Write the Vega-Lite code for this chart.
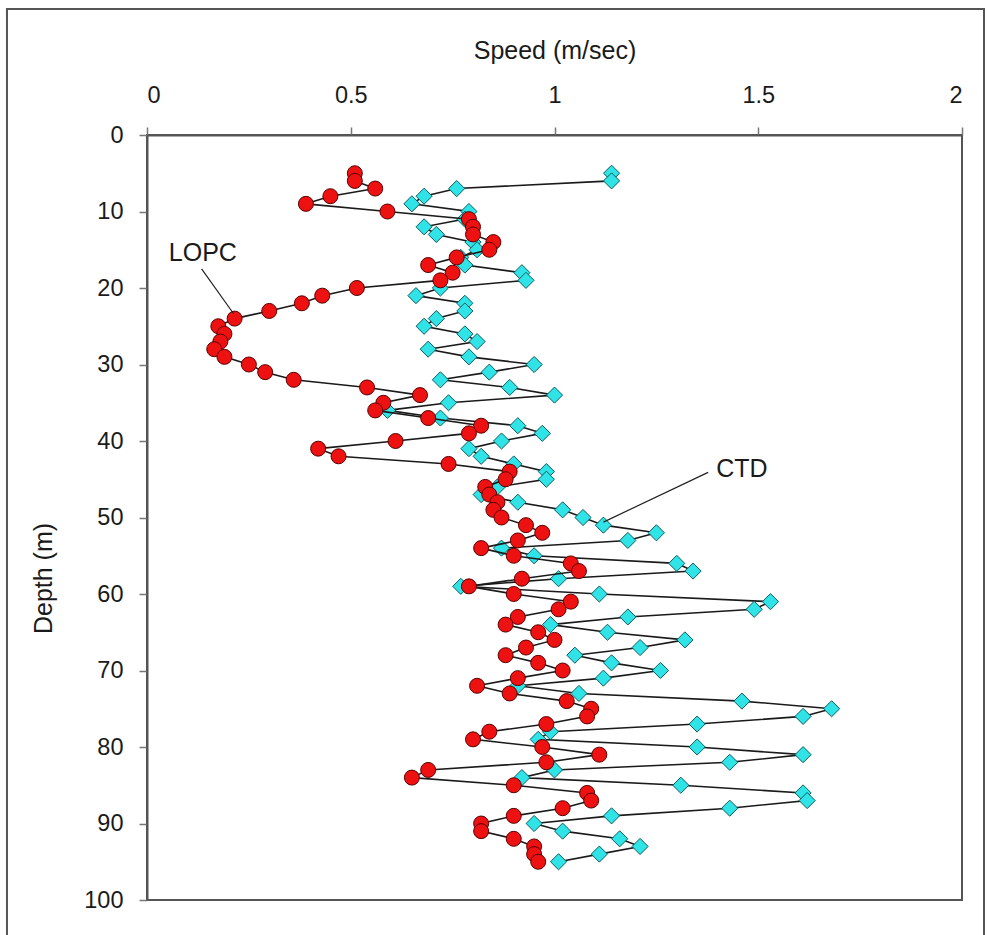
{
  "$schema": "https://vega.github.io/schema/vega-lite/v6.json",
  "width": 815,
  "height": 765,
  "autosize": {"type": "none"},
  "padding": {"left": 147, "top": 135, "right": 25, "bottom": 35},
  "background": "white",
  "config": {
    "view": {"stroke": "#555", "strokeWidth": 2},
    "font": "Liberation Sans",
    "axis": {"grid": false, "domainColor": "#555", "domainWidth": 2, "tickColor": "#777", "tickWidth": 1.5, "tickSize": 8, "labelFont": "Liberation Sans", "labelFontSize": 23.5, "labelColor": "#1a1a1a", "titleFont": "Liberation Sans", "titleFontSize": 25, "titleFontWeight": "normal", "titleColor": "#1a1a1a"}
  },
  "datasets": {
    "speeds": [
      {"series": "LOPC", "depth": 5, "speed": 0.51}, {"series": "LOPC", "depth": 6, "speed": 0.51}, {"series": "LOPC", "depth": 7, "speed": 0.56}, {"series": "LOPC", "depth": 8, "speed": 0.45}, {"series": "LOPC", "depth": 9, "speed": 0.39}, {"series": "LOPC", "depth": 10, "speed": 0.59}, {"series": "LOPC", "depth": 11, "speed": 0.79}, {"series": "LOPC", "depth": 12, "speed": 0.8}, {"series": "LOPC", "depth": 13, "speed": 0.8}, {"series": "LOPC", "depth": 14, "speed": 0.85}, {"series": "LOPC", "depth": 15, "speed": 0.84}, {"series": "LOPC", "depth": 16, "speed": 0.76}, {"series": "LOPC", "depth": 17, "speed": 0.69}, {"series": "LOPC", "depth": 18, "speed": 0.75}, {"series": "LOPC", "depth": 19, "speed": 0.72}, {"series": "LOPC", "depth": 20, "speed": 0.515}, {"series": "LOPC", "depth": 21, "speed": 0.43}, {"series": "LOPC", "depth": 22, "speed": 0.38}, {"series": "LOPC", "depth": 23, "speed": 0.3}, {"series": "LOPC", "depth": 24, "speed": 0.215}, {"series": "LOPC", "depth": 25, "speed": 0.175}, {"series": "LOPC", "depth": 26, "speed": 0.19}, {"series": "LOPC", "depth": 27, "speed": 0.18}, {"series": "LOPC", "depth": 28, "speed": 0.165}, {"series": "LOPC", "depth": 29, "speed": 0.19}, {"series": "LOPC", "depth": 30, "speed": 0.25}, {"series": "LOPC", "depth": 31, "speed": 0.29}, {"series": "LOPC", "depth": 32, "speed": 0.36}, {"series": "LOPC", "depth": 33, "speed": 0.54}, {"series": "LOPC", "depth": 34, "speed": 0.67}, {"series": "LOPC", "depth": 35, "speed": 0.58}, {"series": "LOPC", "depth": 36, "speed": 0.56}, {"series": "LOPC", "depth": 37, "speed": 0.69}, {"series": "LOPC", "depth": 38, "speed": 0.82}, {"series": "LOPC", "depth": 39, "speed": 0.79}, {"series": "LOPC", "depth": 40, "speed": 0.61}, {"series": "LOPC", "depth": 41, "speed": 0.42}, {"series": "LOPC", "depth": 42, "speed": 0.47}, {"series": "LOPC", "depth": 43, "speed": 0.74}, {"series": "LOPC", "depth": 44, "speed": 0.89}, {"series": "LOPC", "depth": 45, "speed": 0.88}, {"series": "LOPC", "depth": 46, "speed": 0.83}, {"series": "LOPC", "depth": 47, "speed": 0.84}, {"series": "LOPC", "depth": 48, "speed": 0.86}, {"series": "LOPC", "depth": 49, "speed": 0.85}, {"series": "LOPC", "depth": 50, "speed": 0.87}, {"series": "LOPC", "depth": 51, "speed": 0.93}, {"series": "LOPC", "depth": 52, "speed": 0.97}, {"series": "LOPC", "depth": 53, "speed": 0.91}, {"series": "LOPC", "depth": 54, "speed": 0.82}, {"series": "LOPC", "depth": 55, "speed": 0.9}, {"series": "LOPC", "depth": 56, "speed": 1.04}, {"series": "LOPC", "depth": 57, "speed": 1.06}, {"series": "LOPC", "depth": 58, "speed": 0.92}, {"series": "LOPC", "depth": 59, "speed": 0.79}, {"series": "LOPC", "depth": 60, "speed": 0.9}, {"series": "LOPC", "depth": 61, "speed": 1.04}, {"series": "LOPC", "depth": 62, "speed": 1.01}, {"series": "LOPC", "depth": 63, "speed": 0.91}, {"series": "LOPC", "depth": 64, "speed": 0.88}, {"series": "LOPC", "depth": 65, "speed": 0.96}, {"series": "LOPC", "depth": 66, "speed": 1.0}, {"series": "LOPC", "depth": 67, "speed": 0.93}, {"series": "LOPC", "depth": 68, "speed": 0.88}, {"series": "LOPC", "depth": 69, "speed": 0.96}, {"series": "LOPC", "depth": 70, "speed": 1.02}, {"series": "LOPC", "depth": 71, "speed": 0.91}, {"series": "LOPC", "depth": 72, "speed": 0.81}, {"series": "LOPC", "depth": 73, "speed": 0.89}, {"series": "LOPC", "depth": 74, "speed": 1.03}, {"series": "LOPC", "depth": 75, "speed": 1.09}, {"series": "LOPC", "depth": 76, "speed": 1.08}, {"series": "LOPC", "depth": 77, "speed": 0.98}, {"series": "LOPC", "depth": 78, "speed": 0.84}, {"series": "LOPC", "depth": 79, "speed": 0.8}, {"series": "LOPC", "depth": 80, "speed": 0.97}, {"series": "LOPC", "depth": 81, "speed": 1.11}, {"series": "LOPC", "depth": 82, "speed": 0.98}, {"series": "LOPC", "depth": 83, "speed": 0.69}, {"series": "LOPC", "depth": 84, "speed": 0.65}, {"series": "LOPC", "depth": 85, "speed": 0.9}, {"series": "LOPC", "depth": 86, "speed": 1.08}, {"series": "LOPC", "depth": 87, "speed": 1.09}, {"series": "LOPC", "depth": 88, "speed": 1.02}, {"series": "LOPC", "depth": 89, "speed": 0.9}, {"series": "LOPC", "depth": 90, "speed": 0.82}, {"series": "LOPC", "depth": 91, "speed": 0.82}, {"series": "LOPC", "depth": 92, "speed": 0.9}, {"series": "LOPC", "depth": 93, "speed": 0.95}, {"series": "LOPC", "depth": 94, "speed": 0.95}, {"series": "LOPC", "depth": 95, "speed": 0.96},
      {"series": "CTD", "depth": 5, "speed": 1.14}, {"series": "CTD", "depth": 6, "speed": 1.14}, {"series": "CTD", "depth": 7, "speed": 0.76}, {"series": "CTD", "depth": 8, "speed": 0.68}, {"series": "CTD", "depth": 9, "speed": 0.65}, {"series": "CTD", "depth": 10, "speed": 0.79}, {"series": "CTD", "depth": 11, "speed": 0.78}, {"series": "CTD", "depth": 12, "speed": 0.68}, {"series": "CTD", "depth": 13, "speed": 0.71}, {"series": "CTD", "depth": 14, "speed": 0.8}, {"series": "CTD", "depth": 15, "speed": 0.81}, {"series": "CTD", "depth": 16, "speed": 0.77}, {"series": "CTD", "depth": 17, "speed": 0.78}, {"series": "CTD", "depth": 18, "speed": 0.92}, {"series": "CTD", "depth": 19, "speed": 0.93}, {"series": "CTD", "depth": 20, "speed": 0.72}, {"series": "CTD", "depth": 21, "speed": 0.66}, {"series": "CTD", "depth": 22, "speed": 0.78}, {"series": "CTD", "depth": 23, "speed": 0.78}, {"series": "CTD", "depth": 24, "speed": 0.71}, {"series": "CTD", "depth": 25, "speed": 0.68}, {"series": "CTD", "depth": 26, "speed": 0.78}, {"series": "CTD", "depth": 27, "speed": 0.81}, {"series": "CTD", "depth": 28, "speed": 0.69}, {"series": "CTD", "depth": 29, "speed": 0.79}, {"series": "CTD", "depth": 30, "speed": 0.95}, {"series": "CTD", "depth": 31, "speed": 0.84}, {"series": "CTD", "depth": 32, "speed": 0.72}, {"series": "CTD", "depth": 33, "speed": 0.89}, {"series": "CTD", "depth": 34, "speed": 1.0}, {"series": "CTD", "depth": 35, "speed": 0.74}, {"series": "CTD", "depth": 36, "speed": 0.59}, {"series": "CTD", "depth": 37, "speed": 0.72}, {"series": "CTD", "depth": 38, "speed": 0.91}, {"series": "CTD", "depth": 39, "speed": 0.97}, {"series": "CTD", "depth": 40, "speed": 0.87}, {"series": "CTD", "depth": 41, "speed": 0.79}, {"series": "CTD", "depth": 42, "speed": 0.82}, {"series": "CTD", "depth": 43, "speed": 0.9}, {"series": "CTD", "depth": 44, "speed": 0.98}, {"series": "CTD", "depth": 45, "speed": 0.98}, {"series": "CTD", "depth": 46, "speed": 0.86}, {"series": "CTD", "depth": 47, "speed": 0.82}, {"series": "CTD", "depth": 48, "speed": 0.91}, {"series": "CTD", "depth": 49, "speed": 1.02}, {"series": "CTD", "depth": 50, "speed": 1.07}, {"series": "CTD", "depth": 51, "speed": 1.12}, {"series": "CTD", "depth": 52, "speed": 1.25}, {"series": "CTD", "depth": 53, "speed": 1.18}, {"series": "CTD", "depth": 54, "speed": 0.87}, {"series": "CTD", "depth": 55, "speed": 0.95}, {"series": "CTD", "depth": 56, "speed": 1.3}, {"series": "CTD", "depth": 57, "speed": 1.34}, {"series": "CTD", "depth": 58, "speed": 1.01}, {"series": "CTD", "depth": 59, "speed": 0.77}, {"series": "CTD", "depth": 60, "speed": 1.11}, {"series": "CTD", "depth": 61, "speed": 1.53}, {"series": "CTD", "depth": 62, "speed": 1.49}, {"series": "CTD", "depth": 63, "speed": 1.18}, {"series": "CTD", "depth": 64, "speed": 0.99}, {"series": "CTD", "depth": 65, "speed": 1.13}, {"series": "CTD", "depth": 66, "speed": 1.32}, {"series": "CTD", "depth": 67, "speed": 1.21}, {"series": "CTD", "depth": 68, "speed": 1.05}, {"series": "CTD", "depth": 69, "speed": 1.14}, {"series": "CTD", "depth": 70, "speed": 1.26}, {"series": "CTD", "depth": 71, "speed": 1.12}, {"series": "CTD", "depth": 72, "speed": 0.91}, {"series": "CTD", "depth": 73, "speed": 1.06}, {"series": "CTD", "depth": 74, "speed": 1.46}, {"series": "CTD", "depth": 75, "speed": 1.68}, {"series": "CTD", "depth": 76, "speed": 1.61}, {"series": "CTD", "depth": 77, "speed": 1.35}, {"series": "CTD", "depth": 78, "speed": 0.99}, {"series": "CTD", "depth": 79, "speed": 0.96}, {"series": "CTD", "depth": 80, "speed": 1.35}, {"series": "CTD", "depth": 81, "speed": 1.61}, {"series": "CTD", "depth": 82, "speed": 1.43}, {"series": "CTD", "depth": 83, "speed": 1.0}, {"series": "CTD", "depth": 84, "speed": 0.92}, {"series": "CTD", "depth": 85, "speed": 1.31}, {"series": "CTD", "depth": 86, "speed": 1.61}, {"series": "CTD", "depth": 87, "speed": 1.62}, {"series": "CTD", "depth": 88, "speed": 1.43}, {"series": "CTD", "depth": 89, "speed": 1.14}, {"series": "CTD", "depth": 90, "speed": 0.95}, {"series": "CTD", "depth": 91, "speed": 1.02}, {"series": "CTD", "depth": 92, "speed": 1.16}, {"series": "CTD", "depth": 93, "speed": 1.21}, {"series": "CTD", "depth": 94, "speed": 1.11}, {"series": "CTD", "depth": 95, "speed": 1.01}
    ],
    "labels": [
      {"label": "LOPC", "tx": 0.137, "ty": 15.4, "x1": 0.134, "y1": 17.5, "x2": 0.213, "y2": 23.4},
      {"label": "CTD", "tx": 1.46, "ty": 43.6, "x1": 1.377, "y1": 44.1, "x2": 1.12, "y2": 50.6}
    ]
  },
  "layer": [
    {
      "data": {"name": "speeds"},
      "transform": [{"filter": "datum.series === 'CTD'"}],
      "mark": {"type": "line", "color": "#1a1a1a", "strokeWidth": 1.6},
      "encoding": {
        "x": {"field": "speed", "type": "quantitative", "scale": {"domain": [0, 2], "nice": false, "zero": false},
          "axis": {"orient": "top", "values": [0, 0.5, 1, 1.5, 2], "format": "~g", "title": "Speed (m/sec)", "labelPadding": 20, "titleBaseline": "middle", "titleY": -85, "titlePadding": 0}},
        "y": {"field": "depth", "type": "quantitative", "scale": {"domain": [0, 100], "reverse": true, "nice": false},
          "axis": {"values": [0, 10, 20, 30, 40, 50, 60, 70, 80, 90, 100], "title": "Depth (m)", "labelPadding": 16, "titleX": -104, "titleY": 443, "titleBaseline": "middle"}},
        "order": {"field": "depth", "type": "quantitative"}
      }
    },
    {
      "data": {"name": "speeds"},
      "transform": [{"filter": "datum.series === 'CTD'"}],
      "mark": {"type": "point", "shape": "diamond", "filled": true, "size": 260, "fill": "#2fe3e6", "stroke": "#0b5d60", "strokeWidth": 1, "opacity": 1},
      "encoding": {
        "x": {"field": "speed", "type": "quantitative"},
        "y": {"field": "depth", "type": "quantitative"}
      }
    },
    {
      "data": {"name": "speeds"},
      "transform": [{"filter": "datum.series === 'LOPC'"}],
      "mark": {"type": "line", "color": "#1a1a1a", "strokeWidth": 1.6},
      "encoding": {
        "x": {"field": "speed", "type": "quantitative"},
        "y": {"field": "depth", "type": "quantitative"},
        "order": {"field": "depth", "type": "quantitative"}
      }
    },
    {
      "data": {"name": "speeds"},
      "transform": [{"filter": "datum.series === 'LOPC'"}],
      "mark": {"type": "point", "shape": "circle", "filled": true, "size": 225, "fill": "#ee1111", "stroke": "#5a0000", "strokeWidth": 1, "opacity": 1},
      "encoding": {
        "x": {"field": "speed", "type": "quantitative"},
        "y": {"field": "depth", "type": "quantitative"}
      }
    },
    {
      "data": {"name": "labels"},
      "mark": {"type": "rule", "color": "#222", "strokeWidth": 1.2},
      "encoding": {
        "x": {"field": "x1", "type": "quantitative"},
        "y": {"field": "y1", "type": "quantitative"},
        "x2": {"field": "x2"},
        "y2": {"field": "y2"}
      }
    },
    {
      "data": {"name": "labels"},
      "mark": {"type": "text", "font": "Liberation Sans", "fontSize": 25, "color": "#1a1a1a", "align": "center", "baseline": "middle"},
      "encoding": {
        "x": {"field": "tx", "type": "quantitative"},
        "y": {"field": "ty", "type": "quantitative"},
        "text": {"field": "label"}
      }
    },
    {
      "data": {"values": [{"frame": 1}]},
      "mark": {"type": "rect", "fill": "transparent", "stroke": "#555", "strokeWidth": 2, "clip": false},
      "encoding": {
        "x": {"datum": -0.3436},
        "x2": {"datum": 2.054},
        "y": {"datum": -16.47},
        "y2": {"datum": 106}
      }
    }
  ]
}
